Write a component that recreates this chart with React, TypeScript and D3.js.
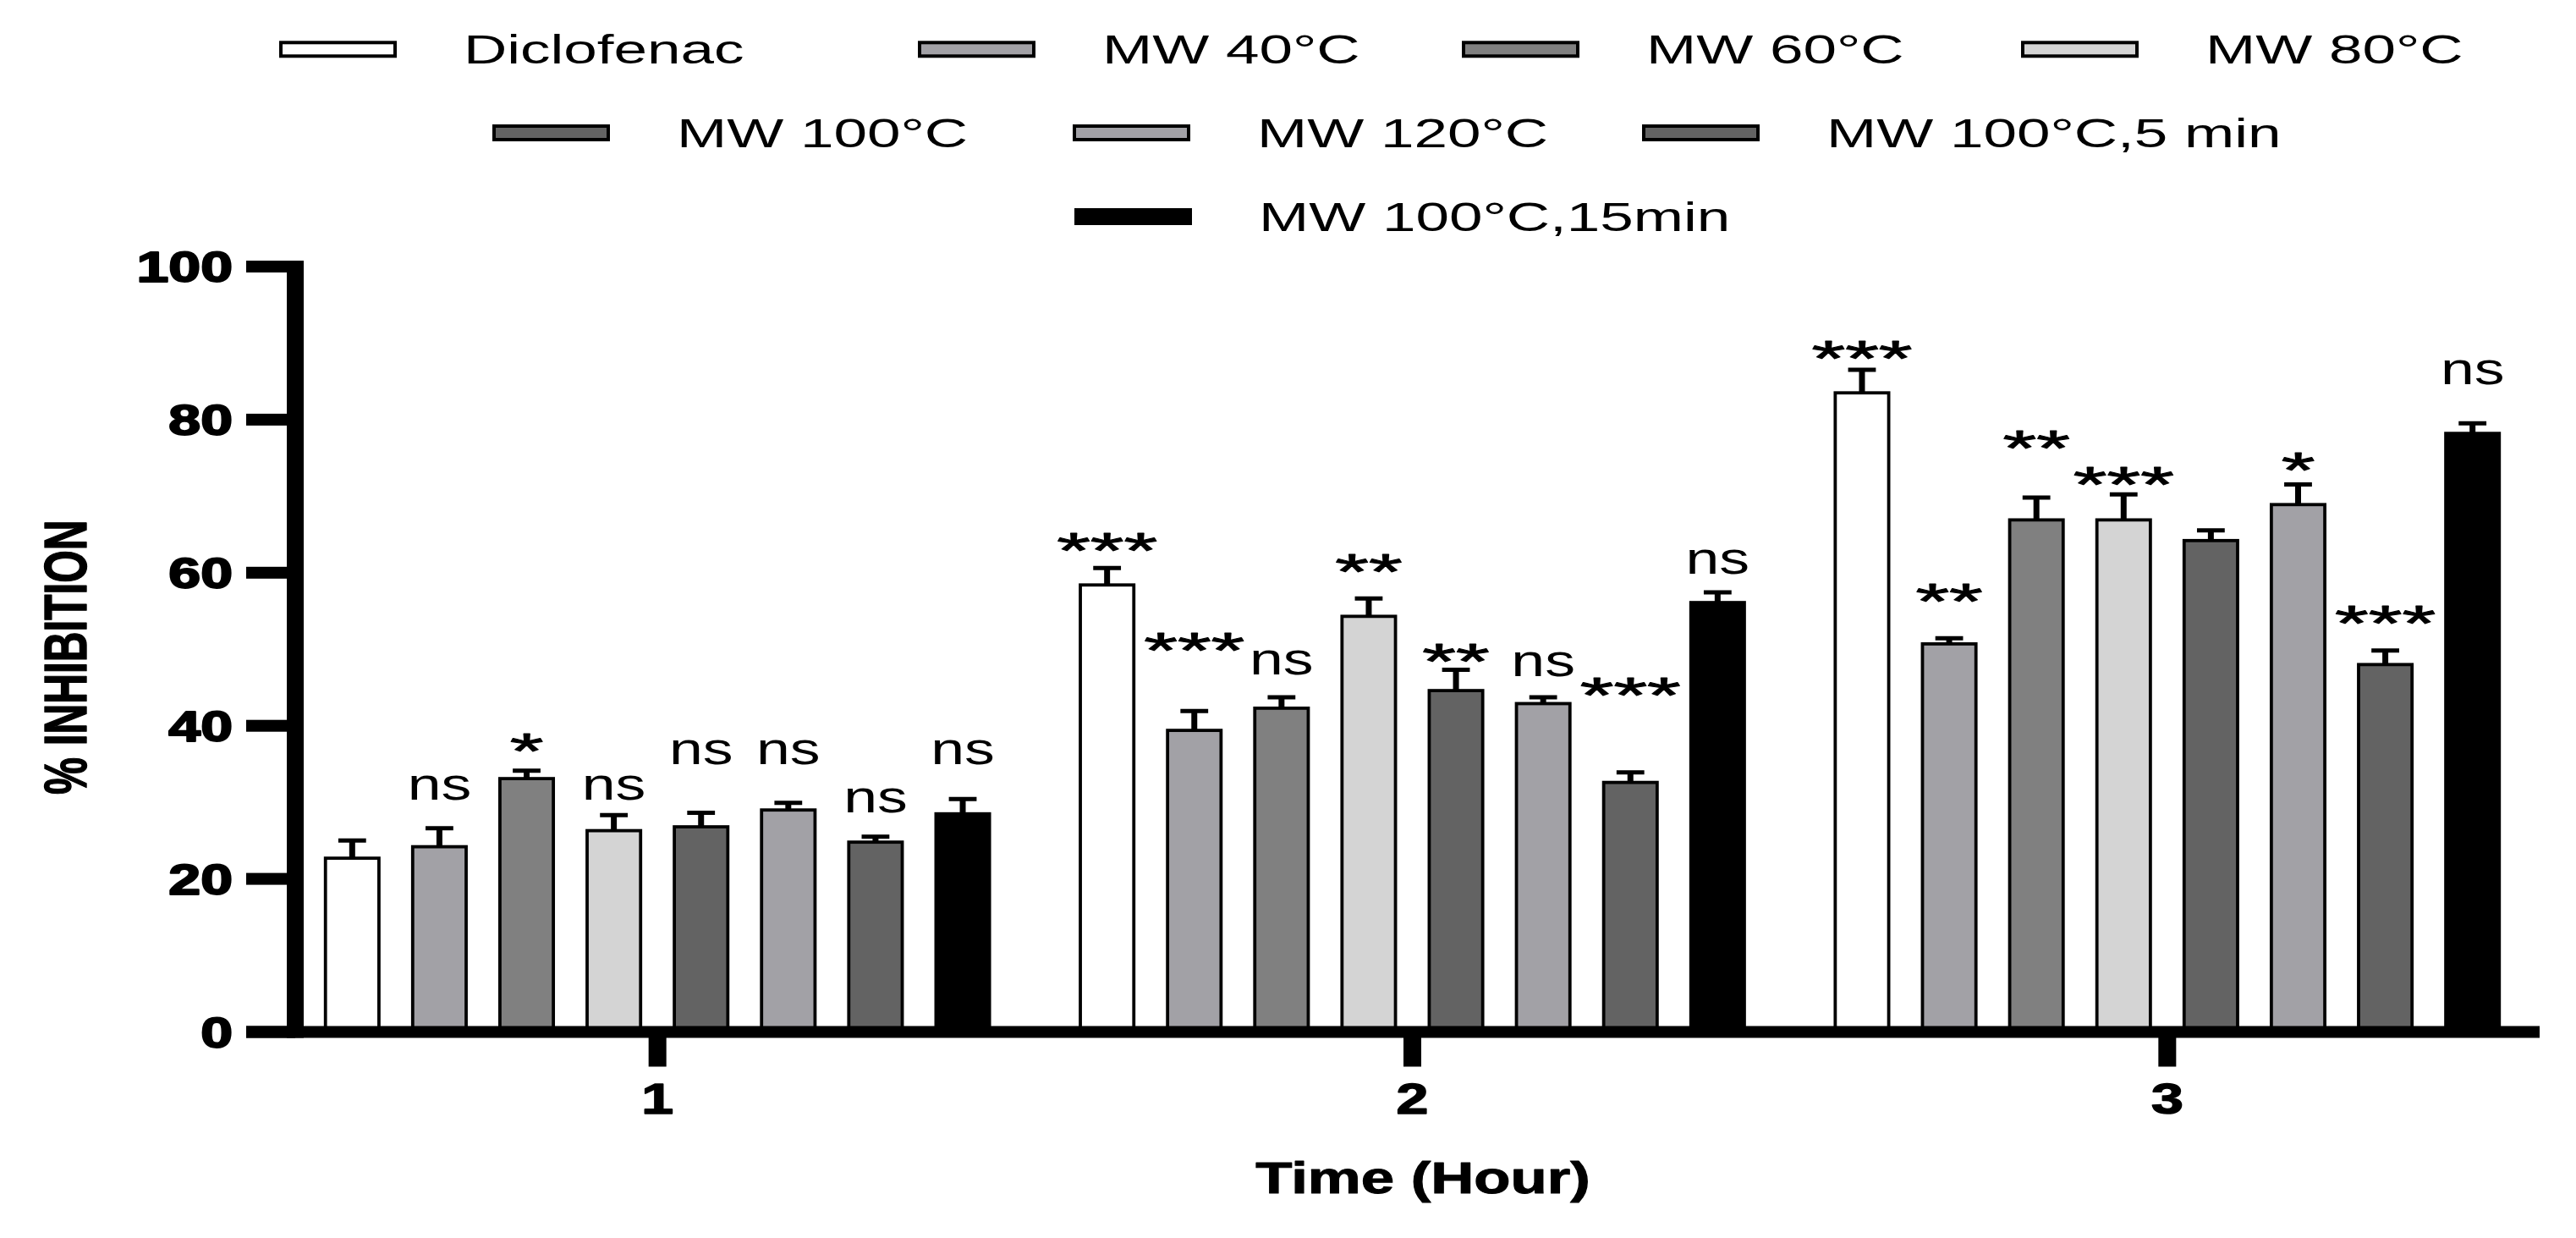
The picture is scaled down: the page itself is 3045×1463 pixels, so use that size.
import React from 'react';
import * as d3 from 'd3';

// ---------- data ----------
const groups = ['1', '2', '3'];
const series = [
  'Diclofenac',
  'MW 40°C',
  'MW 60°C',
  'MW 80°C',
  'MW 100°C',
  'MW 120°C',
  'MW 100°C,5 min',
  'MW 100°C,15min',
];
const seriesColors = ['#ffffff', '#a2a1a6', '#808080', '#d4d4d4', '#636363', '#a2a1a6', '#636363', '#000000'];

// mean % inhibition per hour (rows = hour 1..3, cols = series)
const hour1Means = [22.7, 24.2, 33.1, 26.3, 26.8, 29.0, 24.8, 28.5];
const hour2Means = [58.4, 39.4, 42.3, 54.3, 44.6, 42.9, 32.6, 56.1];
const hour3Means = [83.5, 50.7, 66.9, 66.9, 64.2, 68.9, 48.0, 78.2];
const hour1Err = [2.6, 2.7, 1.3, 2.3, 2.1, 1.2, 1.0, 2.2];
const hour2Err = [2.5, 2.8, 1.7, 2.6, 3.0, 1.1, 1.6, 1.6];
const hour3Err = [3.3, 1.0, 3.2, 3.6, 1.6, 2.9, 2.1, 1.6];

// significance labels and the value level at which each label is centred
const hour1Sig = ['', 'ns', '*', 'ns', 'ns', 'ns', 'ns', 'ns'];
const hour2Sig = ['***', '***', 'ns', '**', '**', 'ns', '***', 'ns'];
const hour3Sig = ['***', '**', '**', '***', '', '*', '***', 'ns'];
const hour1SigLevel = [0, 31.9, 38.4, 31.9, 36.5, 36.5, 30.2, 36.5];
const hour2SigLevel = [64.5, 51.5, 48.2, 61.8, 50.1, 48.0, 45.6, 61.4];
const hour3SigLevel = [89.7, 57.9, 77.9, 73.2, 0, 75.1, 55.1, 86.2];

const yTickValues = [0, 20, 40, 60, 80, 100];
const xAxisTitle = 'Time (Hour)';
const yAxisTitle = '% INHIBITION';

const means = [hour1Means, hour2Means, hour3Means];
const errs = [hour1Err, hour2Err, hour3Err];
const sigs = [hour1Sig, hour2Sig, hour3Sig];
const sigLevels = [hour1SigLevel, hour2SigLevel, hour3SigLevel];

// ---------- layout ----------
const W = 3045;
const H = 1463;
const FONT = "'Liberation Sans', Arial, Helvetica, sans-serif";

const legendRows = [58.3, 157, 256];
const legendLayout = [
  { row: 0, x: 330 },
  { row: 0, x: 1085 },
  { row: 0, x: 1728 },
  { row: 0, x: 2389 },
  { row: 1, x: 582 },
  { row: 1, x: 1268 },
  { row: 1, x: 1941 },
  { row: 2, x: 1270 },
];

function SText(props: {
  x: number;
  y: number;
  sx: number;
  size: number;
  weight?: string | number;
  anchor?: string;
  rotate?: number;
  dy?: number;
  heavy?: number;
  children: React.ReactNode;
}) {
  const { x, y, sx, size, weight = 'normal', anchor = 'start', rotate, dy = 0, heavy = 0, children } = props;
  const tf = `translate(${x},${y}) scale(${sx},1)` + (rotate ? ` rotate(${rotate})` : '');
  return (
    <text
      transform={tf}
      x={0}
      y={dy}
      fontFamily={FONT}
      fontSize={size}
      fontWeight={weight as any}
      textAnchor={anchor as any}
      fill="#000"
      stroke={heavy ? '#000' : 'none'}
      strokeWidth={heavy}
      strokeLinejoin="round"
    >
      {children}
    </text>
  );
}

export default function App() {
  const y = d3.scaleLinear().domain([0, 100]).range([1219.5, 315]);
  const xGroup = d3.scaleBand<string>().domain(groups).range([331, 3008]).paddingInner(0).paddingOuter(0);
  const half = (8 * 103.1) / 2;
  const xSeries = d3
    .scaleBand<string>()
    .domain(series)
    .range([-half, half])
    .paddingInner(0.35)
    .paddingOuter(0.175);
  const bw = xSeries.bandwidth();
  const barStroke = 3.8;

  const axisH = 14; // thickness of horizontal strokes
  const axisV = 20; // thickness of vertical strokes
  const yAxisX = 349;
  const xAxisLeft = 291;
  const xAxisRight = 3002;
  const y0 = y(0);

  return (
    <svg
      width={W}
      height={H}
      viewBox={`0 0 ${W} ${H}`}
      style={{ position: 'absolute', left: 0, top: 0, background: '#fff' }}
    >
      <rect x={0} y={0} width={W} height={H} fill="#fff" />

      {/* legend */}
      {series.map((s, i) => {
        const L = legendLayout[i];
        const cy = legendRows[L.row];
        return (
          <g key={s}>
            <rect
              x={L.x + 2}
              y={cy - 8}
              width={135}
              height={16}
              fill={seriesColors[i]}
              stroke="#000"
              strokeWidth={4}
            />
            <SText x={L.x + 218} y={cy + 16.7} sx={1.48} size={48}>
              {s}
            </SText>
          </g>
        );
      })}

      {/* bars */}
      {groups.map((g, gi) => {
        const gc = (xGroup(g) as number) + xGroup.bandwidth() / 2;
        return (
          <g key={g}>
            {series.map((s, si) => {
              const m = means[gi][si];
              const e = errs[gi][si];
              const bx = gc + (xSeries(s) as number);
              const cx = bx + bw / 2;
              const top = y(m);
              const errTop = y(m + e);
              return (
                <g key={s}>
                  <line x1={cx} x2={cx} y1={top} y2={errTop + 2} stroke="#000" strokeWidth={7} />
                  <line x1={cx - 16.4} x2={cx + 16.4} y1={errTop + 2.5} y2={errTop + 2.5} stroke="#000" strokeWidth={5} />
                  <rect
                    x={bx + barStroke / 2}
                    y={top}
                    width={bw - barStroke}
                    height={y0 - top}
                    fill={seriesColors[si]}
                    stroke="#000"
                    strokeWidth={barStroke}
                  />
                </g>
              );
            })}
            {series.map((s, si) => {
              const label = sigs[gi][si];
              if (!label) return null;
              const cx = gc + (xSeries(s) as number) + bw / 2;
              const cy = y(sigLevels[gi][si]);
              if (label === 'ns') {
                return (
                  <SText key={'a' + s} x={cx} y={cy + 13.75} sx={1.35} size={53} anchor="middle">
                    {label}
                  </SText>
                );
              }
              return (
                <SText key={'a' + s} x={cx} y={cy + 35.4} sx={1.7} size={60} anchor="middle" heavy={1}>
                  {label}
                </SText>
              );
            })}
          </g>
        );
      })}

      {/* y axis */}
      <rect x={yAxisX - axisV / 2} y={y(100) - axisH / 2} width={axisV} height={y0 - y(100) + axisH} fill="#000" />
      {yTickValues.map((t) => (
        <g key={t}>
          <rect x={xAxisLeft} y={y(t) - axisH / 2} width={yAxisX - xAxisLeft} height={axisH} fill="#000" />
          <SText x={275} y={y(t) + 18} sx={1.36} size={50} weight="bold" anchor="end" heavy={2}>
            {t}
          </SText>
        </g>
      ))}

      {/* x axis */}
      <rect x={xAxisLeft} y={y0 - axisH / 2} width={xAxisRight - xAxisLeft} height={axisH} fill="#000" />
      {groups.map((g) => {
        const gc = (xGroup(g) as number) + xGroup.bandwidth() / 2;
        return (
          <g key={'xt' + g}>
            <rect x={gc - 10.5} y={y0 + axisH / 2 - 1} width={21} height={35} fill="#000" />
            <SText x={gc} y={1316} sx={1.36} size={50} weight="bold" anchor="middle" heavy={1.5}>
              {g}
            </SText>
          </g>
        );
      })}

      {/* axis titles */}
      <SText x={1682} y={1410} sx={1.36} size={52} weight="bold" anchor="middle" heavy={1}>
        {xAxisTitle}
      </SText>
      <SText x={76.7} y={776.7} sx={1.41} size={49.5} weight="bold" anchor="middle" rotate={-90} dy={0.358 * 49.5} heavy={1}>
        {yAxisTitle}
      </SText>
    </svg>
  );
}
